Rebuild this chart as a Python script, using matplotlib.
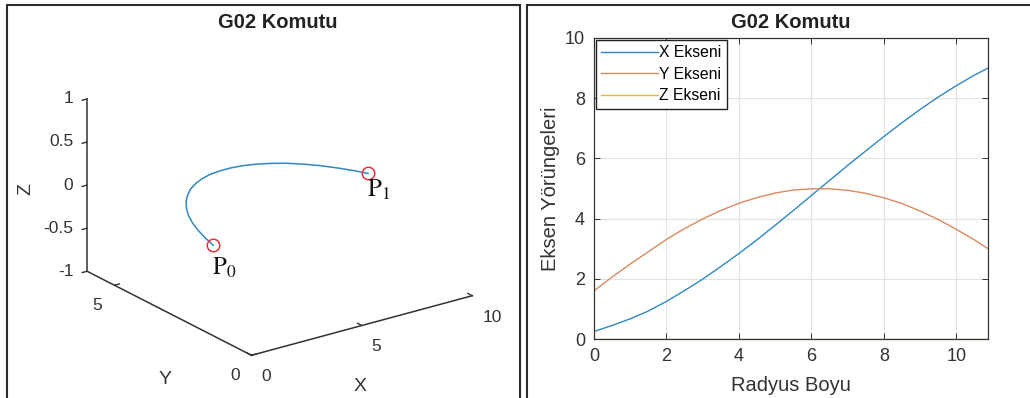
import matplotlib
matplotlib.use("Agg")
import matplotlib.pyplot as plt
from matplotlib.patches import Rectangle

plt.rcParams['font.family'] = ['Liberation Sans', 'DejaVu Sans']
plt.rcParams['mathtext.fontset'] = 'stix'

# G02 path: arc length along the radius and the axis positions along it
radius_len = [0.0, 0.5, 1.0, 1.5, 2.0, 2.5, 3.0, 3.5, 4.0, 4.5, 5.0, 5.5,
              6.0, 6.5, 7.0, 7.5, 8.0, 8.5, 9.0, 9.5, 10.0, 10.5, 10.87]
x_path = [0.25, 0.45, 0.67, 0.93, 1.25, 1.61, 1.99, 2.41, 2.84, 3.30, 3.78, 4.27,
          4.77, 5.27, 5.77, 6.25, 6.73, 7.19, 7.63, 8.04, 8.42, 8.77, 9.00]
y_path = [1.60, 2.06, 2.49, 2.90, 3.31, 3.67, 3.99, 4.27, 4.51, 4.70, 4.85, 4.95,
          4.99, 4.99, 4.94, 4.84, 4.69, 4.50, 4.25, 3.97, 3.64, 3.29, 3.00]
z_path = [0.0] * len(radius_len)

series_names = ["X Ekseni", "Y Ekseni", "Z Ekseni"]
series_colors = ["#2f88c6", "#d98a60", "#e6b43c"]

x3_ticks = [0, 5, 10]
y3_ticks = [0, 5]
z3_ticks = [-1, -0.5, 0, 0.5, 1]
z3_ticklabels = ["-1", "-0.5", "0", "0.5", "1"]

W, H = 1030, 398
fig = plt.figure(figsize=(W / 100, H / 100), dpi=100)

def px(x, y):
    # pixel position (from top-left) to figure fraction
    return x / W, 1 - y / H

# panel frames
for x0, x1 in [(7, 520), (527, 1040)]:
    fig.patches.append(Rectangle(px(x0, 420), (x1 - x0) / W, (420 - 5) / H,
                                 transform=fig.transFigure, fill=False,
                                 edgecolor="#2b2b2b", linewidth=1.5))

# ---------- left: 3D path ----------
cx, cy, side = 274, 203, 420
l, b = px(cx - side / 2, cy + side / 2)
ax3 = fig.add_axes([l, b, side / W, side / H], projection='3d', proj_type='ortho')
ax3.set_axis_off()
ax3.set_xlim(0, 10)
ax3.set_ylim(0, 6)
ax3.set_zlim(-1, 1)
ax3.set_box_aspect((1, 1.025, 0.68), zoom=1.0)
ax3.view_init(elev=21.8, azim=-126)

ac = "#333333"
ax3.plot([0, 10], [0, 0], [-1, -1], color=ac, lw=1.1)
ax3.plot([0, 0], [0, 6], [-1, -1], color=ac, lw=1.1)
ax3.plot([0, 0], [6, 6], [-1, 1], color=ac, lw=1.1)
for t in x3_ticks:
    ax3.plot([t, t], [0, 0.16], [-1, -1], color=ac, lw=1.0)
    ax3.text(t, -0.36, -1.19, str(t), ha='left', va='center', fontsize=12.5, color="#333333")
for t in y3_ticks:
    ax3.plot([0, 0.22], [t, t], [-1, -1], color=ac, lw=1.0)
    ax3.text(-0.54, t, -1.2, str(t), ha='right', va='center', fontsize=12.5, color="#333333")
for t, lab in zip(z3_ticks, z3_ticklabels):
    ax3.plot([0, -0.22], [6, 6], [t, t], color=ac, lw=1.0)
    ax3.text(-0.40, 6.175, t, lab, ha='right', va='center', fontsize=12.5, color="#333333")
ax3.text(4.9, 0, -1.7, "X", ha='center', va='center', fontsize=14, color="#333333")
ax3.text(0, 3.15, -1.79, "Y", ha='center', va='center', fontsize=14, color="#333333")
ax3.text(-1.8, 6.8, -0.05, "Z", 'z', ha='center', va='center', fontsize=14,
         color="#333333")

ax3.plot(x_path, y_path, z_path, color=series_colors[0], lw=1.1)
ax3.plot([x_path[0], x_path[-1]], [y_path[0], y_path[-1]], [z_path[0], z_path[-1]],
         ls='none', marker='o', ms=9, mfc='none', mec='#e8323c', mew=1.1)
ax3.text(x_path[0], y_path[0] - 0.4, z_path[0] - 0.2, r"$\mathrm{P}_0$",
         ha='center', va='center', fontsize=18, color="#111111")
ax3.text(x_path[-1], y_path[-1] - 0.4, z_path[-1] - 0.13, r"$\mathrm{P}_1$",
         ha='center', va='center', fontsize=18, color="#111111")

fig.text(*px(278, 28), "G02 Komutu", ha='center', va='baseline',
         fontsize=14.5, fontweight='bold', color="#222222")

# ---------- right: axis trajectories ----------
l, b = px(594, 339)
ax = fig.add_axes([l, b, (988 - 594) / W, (339 - 38) / H])
paths = [x_path, y_path, z_path]
for vals, name, col in zip(paths, series_names, series_colors):
    ax.plot(radius_len, vals, color=col, lw=1.0, label=name)
ax.set_xlim(0, radius_len[-1])
ax.set_ylim(0, 10)
ax.set_xticks([0, 2, 4, 6, 8, 10])
ax.set_yticks([0, 2, 4, 6, 8, 10])
ax.grid(True, color="#e3e3e3", lw=0.8)
ax.set_axisbelow(True)
ax.tick_params(direction='in', length=4, width=0.7, top=True, right=True,
               labelsize=13, labelcolor="#333333", color="#333333", pad=6.5)
for sp in ax.spines.values():
    sp.set_color("#333333")
    sp.set_linewidth(0.9)
leg = ax.legend(loc='upper left', fontsize=11.3, frameon=True, fancybox=False,
                edgecolor="#222222", framealpha=1, borderaxespad=0.1,
                handlelength=3.6, handletextpad=0.1, labelspacing=0.42,
                borderpad=0.35)
leg.get_frame().set_linewidth(1.0)

fig.text(*px(791, 28), "G02 Komutu", ha='center', va='baseline',
         fontsize=14.5, fontweight='bold', color="#222222")
fig.text(*px(791, 391), "Radyus Boyu", ha='center', va='baseline',
         fontsize=14.5, color="#333333")
fig.text(*px(556.5, 188.5), "Eksen Yörüngeleri", ha='center', va='baseline',
         rotation=90, rotation_mode='anchor', fontsize=14.5, color="#333333")

fig.savefig("out.png", dpi=100)
